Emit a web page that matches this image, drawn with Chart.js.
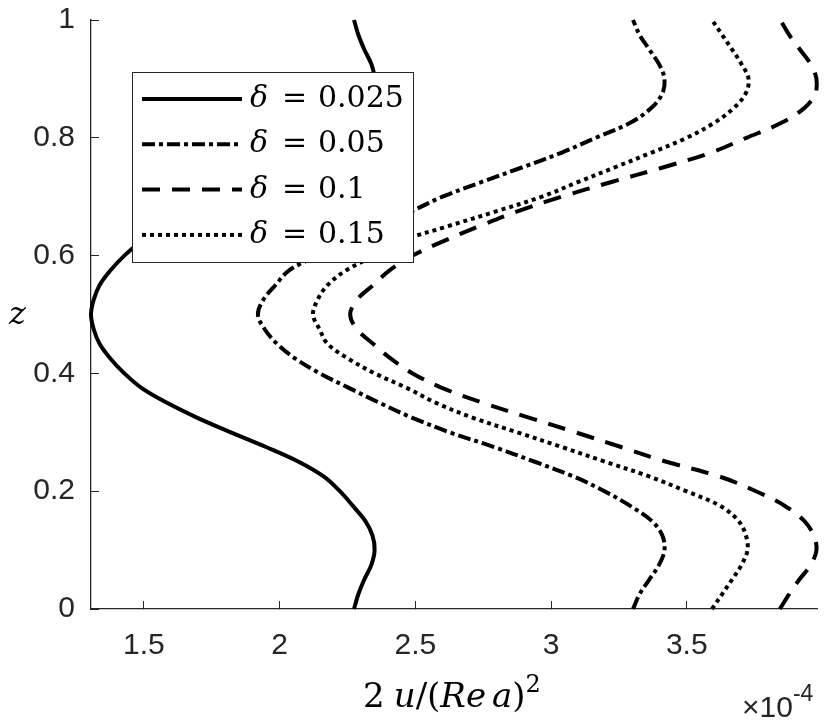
<!DOCTYPE html>
<html>
<head>
<meta charset="utf-8">
<script src="https://cdn.jsdelivr.net/npm/chart.js@4.4.1/dist/chart.umd.min.js"></script>
<style>
  html, body { margin: 0; padding: 0; background: #fff; }
</style>
</head>
<body>
<canvas id="canvas" width="830" height="726"></canvas>
<script>
// z positions (shared by every profile)
const zVals = [0,0.025,0.05,0.075,0.1,0.125,0.15,0.175,0.2,0.225,0.25,0.275,0.3,0.325,0.35,0.375,0.4,0.425,0.45,0.475,
  0.5,0.525,0.55,0.575,0.6,0.625,0.65,0.675,0.7,0.725,0.75,0.775,0.8,0.825,0.85,0.875,0.9,0.925,0.95,0.975,1];

// 2u/(Re a)^2, in units of 1e-4
const delta025 = [2.274,2.29,2.312,2.338,2.35,2.342,2.315,2.27,2.222,2.162,2.07,1.95,1.82,1.695,1.585,1.492,1.428,1.377,1.337,1.315,
  1.305,1.315,1.337,1.377,1.428,1.493,1.587,1.696,1.818,1.949,2.068,2.162,2.222,2.27,2.315,2.342,2.35,2.338,2.312,2.29,2.274];
const delta05 = [3.302,3.326,3.362,3.398,3.418,3.41,3.37,3.292,3.197,3.083,2.94,2.79,2.626,2.487,2.368,2.257,2.148,2.058,1.991,1.945,
  1.92,1.94,1.985,2.035,2.14,2.25,2.365,2.485,2.60,2.745,2.895,3.04,3.165,3.29,3.368,3.41,3.418,3.398,3.362,3.326,3.302];
const delta1 = [3.843,3.877,3.915,3.957,3.978,3.968,3.932,3.862,3.755,3.62,3.425,3.258,3.09,2.918,2.75,2.60,2.49,2.41,2.345,2.285,
  2.26,2.285,2.345,2.405,2.49,2.606,2.736,2.876,3.039,3.223,3.415,3.59,3.72,3.847,3.932,3.975,3.978,3.957,3.917,3.877,3.845];
const delta15 = [3.593,3.63,3.667,3.702,3.724,3.718,3.69,3.624,3.498,3.362,3.20,3.04,2.875,2.71,2.576,2.47,2.35,2.253,2.177,2.147,
  2.123,2.14,2.177,2.245,2.35,2.45,2.621,2.797,2.966,3.10,3.236,3.371,3.50,3.60,3.672,3.717,3.728,3.702,3.667,3.63,3.593];

const deltaLabels = ['0.025', '0.05', '0.1', '0.15'];
const xTicks = [1.5, 2, 2.5, 3, 3.5];
const yTicks = [0, 0.2, 0.4, 0.6, 0.8, 1];

const axisColor = '#262626';
const serif = '"DejaVu Serif", serif';
const sans = '"Liberation Sans", Arial, sans-serif';

function profile(xs) {
  return xs.map((v, i) => ({ x: v, y: zVals[i] }));
}

function line(label, xs, dash) {
  return {
    label: 'δ = ' + label,
    data: profile(xs),
    showLine: true,
    borderColor: '#000',
    borderWidth: 4,
    borderDash: dash,
    borderCapStyle: 'butt',
    pointRadius: 0,
    tension: 0.35,
    fill: false,
    clip: false
  };
}

// draw text made of upright / italic / superscript pieces
function drawPieces(ctx, pieces, cx, baseY, size) {
  const fontOf = p => (p.it ? 'italic ' : '') + (p.sup ? Math.round(size * 0.7) : size) + 'px ' + serif;
  let total = 0;
  pieces.forEach(p => {
    if (p.gap) { total += p.gap; return; }
    ctx.font = fontOf(p);
    total += ctx.measureText(p.t).width;
  });
  let x = cx - total / 2;
  pieces.forEach(p => {
    if (p.gap) { x += p.gap; return; }
    ctx.font = fontOf(p);
    ctx.fillText(p.t, x, p.sup ? baseY - size * 0.45 : baseY);
    x += ctx.measureText(p.t).width;
  });
}

const decorations = {
  id: 'decorations',
  afterDatasetsDraw(chart) {
    const ctx = chart.ctx;
    ctx.save();
    // legend box, top left inside the axes
    ctx.fillStyle = '#fff';
    ctx.fillRect(132.5, 72.5, 281, 190);
    ctx.strokeStyle = axisColor;
    ctx.lineWidth = 1;
    ctx.strokeRect(132.5, 72.5, 281, 190);
    chart.data.datasets.forEach((ds, i) => {
      const y = 99 + i * 45.3;
      ctx.beginPath();
      ctx.setLineDash(ds.borderDash || []);
      ctx.lineWidth = ds.borderWidth;
      ctx.lineCap = 'butt';
      ctx.strokeStyle = ds.borderColor;
      ctx.moveTo(142, y);
      ctx.lineTo(242, y);
      ctx.stroke();
      ctx.setLineDash([]);
      ctx.fillStyle = '#000';
      ctx.textBaseline = 'alphabetic';
      ctx.textAlign = 'left';
      ctx.font = 'italic 30px ' + serif;
      ctx.fillText('δ', 250, y + 8);
      ctx.font = '30px ' + serif;
      ctx.fillText('=', 282, y + 8);
      ctx.fillText(deltaLabels[i], 318, y + 8);
    });
    ctx.restore();
  },
  afterDraw(chart) {
    const ctx = chart.ctx;
    ctx.save();
    ctx.fillStyle = '#000';
    ctx.textBaseline = 'alphabetic';
    ctx.textAlign = 'left';
    // y axis title
    ctx.font = 'italic 32px ' + serif;
    ctx.fillText('z', 9, 324);
    // x axis title
    drawPieces(ctx, [
      { t: '2' }, { gap: 9 }, { t: 'u', it: 1 }, { t: '/' }, { t: '(' },
      { t: 'Re', it: 1 }, { gap: 6 }, { t: 'a', it: 1 }, { t: ')' }, { t: '2', sup: 1 }
    ], 452, 707, 34);
    // exponent
    ctx.fillStyle = axisColor;
    ctx.font = '30px ' + sans;
    ctx.fillText('×10', 742, 717);
    const w = ctx.measureText('×10').width;
    ctx.font = '23px ' + sans;
    ctx.fillText('-4', 742 + w, 701);
    ctx.restore();
  }
};

const tickFont = { family: sans, size: 30 };

function fixPadding(s) {
  s.paddingTop = 0;
  s.paddingBottom = 0;
  s.paddingLeft = 0;
  s.paddingRight = 0;
}

new Chart(document.getElementById('canvas'), {
  type: 'scatter',
  data: {
    datasets: [
      line(deltaLabels[0], delta025, []),
      line(deltaLabels[1], delta05, [13, 4, 4, 4]),
      line(deltaLabels[2], delta1, [18, 12]),
      line(deltaLabels[3], delta15, [4, 4])
    ]
  },
  options: {
    responsive: false,
    devicePixelRatio: 1,
    animation: false,
    layout: { padding: { top: 20, right: 13, left: 0, bottom: 0 } },
    plugins: { legend: { display: false }, tooltip: { enabled: false } },
    scales: {
      x: {
        type: 'linear',
        min: 1.305,
        max: 3.98,
        afterBuildTicks: s => { s.ticks = xTicks.map(v => ({ value: v })); },
        afterFit: s => { s.height = 117; fixPadding(s); },
        ticks: { font: tickFont, color: axisColor, padding: 27, maxRotation: 0, callback: v => String(v) },
        grid: { display: true, drawOnChartArea: false, drawTicks: true, tickLength: -8, color: axisColor, lineWidth: 1 },
        border: { display: true, color: axisColor, width: 1.3 }
      },
      y: {
        type: 'linear',
        min: 0,
        max: 1,
        afterBuildTicks: s => { s.ticks = yTicks.map(v => ({ value: v })); },
        afterFit: s => { s.width = 91; fixPadding(s); },
        ticks: { font: tickFont, color: axisColor, padding: 24, callback: v => String(v) },
        grid: { display: true, drawOnChartArea: false, drawTicks: true, tickLength: -8, color: axisColor, lineWidth: 1 },
        border: { display: true, color: axisColor, width: 1.3 }
      }
    }
  },
  plugins: [decorations]
});
</script>
</body>
</html>
